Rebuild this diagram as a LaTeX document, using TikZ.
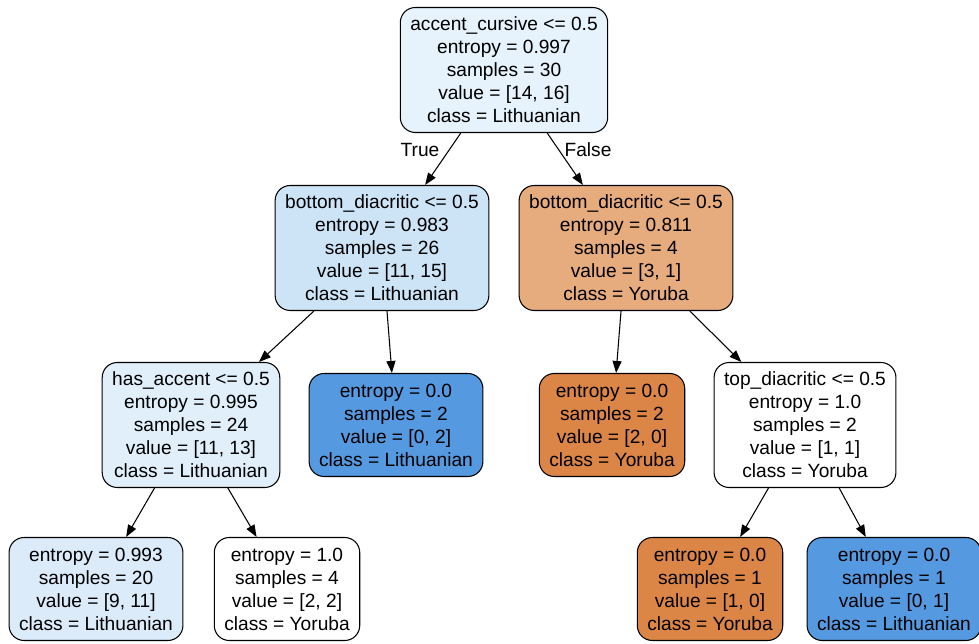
\documentclass[tikz,border=0pt]{standalone}
\usepackage{fontspec}
\setmainfont{Liberation Sans}
\usetikzlibrary{arrows.meta,positioning}
\definecolor{litA}{HTML}{E6F2FC}
\definecolor{litB}{HTML}{CDE4F7}
\definecolor{litC}{HTML}{E1EFFB}
\definecolor{litD}{HTML}{DCEBF9}
\definecolor{litF}{HTML}{5599E0}
\definecolor{yorB}{HTML}{E7AC7E}
\definecolor{yorF}{HTML}{DB8646}

\begin{document}
\begin{tikzpicture}[x=0.02cm, y=-0.02cm,
    every node/.style={font=\fontsize{10.9}{13.1}\selectfont},
    split/.style={draw, line width=0.6pt, rounded corners=0.3cm, align=center,
      inner xsep=0.2cm, minimum height=2.5cm},
    leaf/.style={split, minimum height=2.06cm},
    edge/.style={line width=0.6pt, -{Triangle[length=0.24cm, width=0.18cm]}}
  ]
  \useasboundingbox (0,0) rectangle (979,644);

  % Wurzel und innere Knoten
  \node[split, fill=litA] (n0) at (504,70)
    {accent\_cursive <= 0.5\\entropy = 0.997\\samples = 30\\value = [14, 16]\\class = Lithuanian};
  \node[split, fill=litB] (n1) at (382,248)
    {bottom\_diacritic <= 0.5\\entropy = 0.983\\samples = 26\\value = [11, 15]\\class = Lithuanian};
  \node[split, fill=yorB] (n2) at (626,248)
    {bottom\_diacritic <= 0.5\\entropy = 0.811\\samples = 4\\value = [3, 1]\\class = Yoruba};
  \node[split, fill=litC] (n3) at (191,425)
    {has\_accent <= 0.5\\entropy = 0.995\\samples = 24\\value = [11, 13]\\class = Lithuanian};
  \node[split, fill=white] (n6) at (805,425)
    {top\_diacritic <= 0.5\\entropy = 1.0\\samples = 2\\value = [1, 1]\\class = Yoruba};

  % Blaetter
  \node[leaf, fill=litF] (n4) at (396,425)
    {entropy = 0.0\\samples = 2\\value = [0, 2]\\class = Lithuanian};
  \node[leaf, fill=yorF] (n5) at (612,425)
    {entropy = 0.0\\samples = 2\\value = [2, 0]\\class = Yoruba};
  \node[leaf, fill=litD] (n7) at (96,589)
    {entropy = 0.993\\samples = 20\\value = [9, 11]\\class = Lithuanian};
  \node[leaf, fill=white] (n8) at (287,589)
    {entropy = 1.0\\samples = 4\\value = [2, 2]\\class = Yoruba};
  \node[leaf, fill=yorF] (n9) at (710,589)
    {entropy = 0.0\\samples = 1\\value = [1, 0]\\class = Yoruba};
  \node[leaf, fill=litF] (n10) at (894,589)
    {entropy = 0.0\\samples = 1\\value = [0, 1]\\class = Lithuanian};

  % Kanten
  \draw[edge] (n0) -- (n1);
  \draw[edge] (n0) -- (n2);
  \draw[edge] (n1) -- (n3);
  \draw[edge] (n1) -- (n4);
  \draw[edge] (n2) -- (n5);
  \draw[edge] (n2) -- (n6);
  \draw[edge] (n3) -- (n7);
  \draw[edge] (n3) -- (n8);
  \draw[edge] (n6) -- (n9);
  \draw[edge] (n6) -- (n10);

  % Beschriftung der ersten Verzweigung
  \node (lt) at (420,150) {True};
  \node (lf) at (588,150) {False};
\end{tikzpicture}
\end{document}
